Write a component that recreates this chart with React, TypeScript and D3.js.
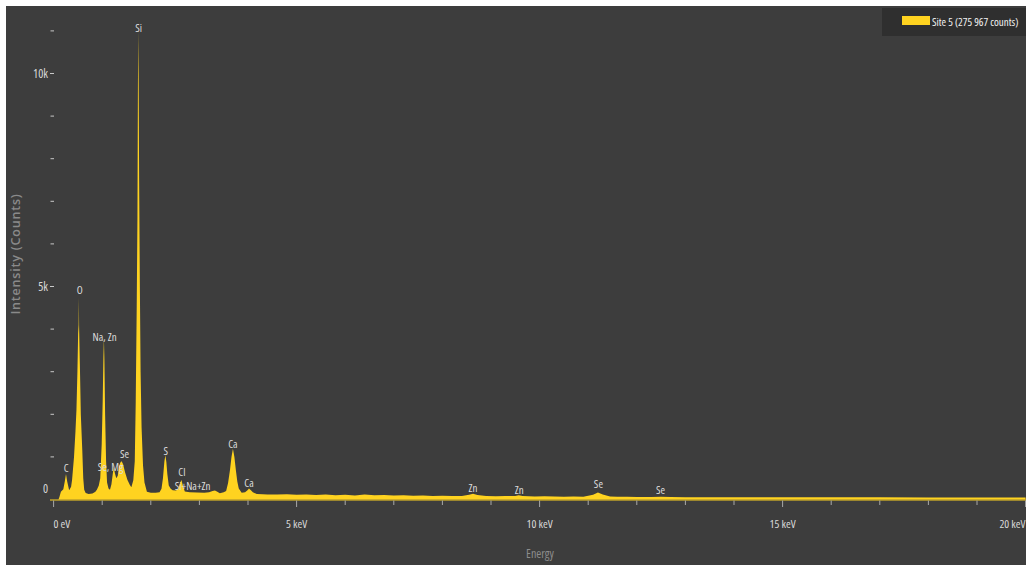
import React from "react";
import * as d3 from "d3";

// EDS spectrum sampled points: photon energy (keV) and detector counts
const energyKeV = [
  0.0, 0.1, 0.12, 0.15, 0.2, 0.23, 0.255, 0.28, 0.32, 0.36, 0.38, 0.42, 0.45, 0.47, 0.49, 0.505, 0.515, 0.52,
  0.525, 0.54, 0.56, 0.59, 0.61, 0.63, 0.66, 0.72, 0.8, 0.86, 0.89, 0.93, 0.96, 0.99, 1.01, 1.025, 1.035,
  1.045, 1.06, 1.08, 1.1, 1.13, 1.16, 1.19, 1.22, 1.24, 1.26, 1.29, 1.32, 1.35, 1.38, 1.4, 1.43, 1.47, 1.52,
  1.57, 1.6, 1.64, 1.67, 1.69, 1.71, 1.725, 1.735, 1.742, 1.75, 1.76, 1.775, 1.79, 1.81, 1.84, 1.87, 1.92,
  2.0, 2.1, 2.18, 2.22, 2.25, 2.28, 2.3, 2.32, 2.34, 2.37, 2.41, 2.45, 2.52, 2.57, 2.6, 2.63, 2.66, 2.7, 2.8,
  2.95, 3.1, 3.2, 3.27, 3.32, 3.36, 3.42, 3.5, 3.55, 3.59, 3.63, 3.66, 3.69, 3.72, 3.75, 3.78, 3.81, 3.87,
  3.94, 3.99, 4.02, 4.06, 4.1, 4.18, 4.3, 4.4, 4.6, 4.8, 5.0, 5.2, 5.4, 5.6, 5.8, 6.0, 6.2, 6.4, 6.6, 6.8,
  7.0, 7.2, 7.4, 7.6, 7.8, 8.0, 8.2, 8.4, 8.55, 8.63, 8.72, 8.9, 9.1, 9.3, 9.5, 9.57, 9.65, 9.9, 10.1, 10.3,
  10.5, 10.7, 10.9, 11.1, 11.2, 11.3, 11.45, 11.6, 11.8, 12.0, 12.3, 12.5, 12.7, 13.0, 13.5, 14.0, 14.5,
  15.0, 16.0, 17.0, 18.0, 19.0, 20.0,
];
const counts = [
  0, 0, 60, 180, 240, 420, 600, 420, 220, 300, 460, 1000, 1600, 2100, 3000, 3900, 4100, 4750,
  4050, 3200, 2000, 1160, 500, 230, 150, 130, 140, 180, 230, 330, 500, 1300, 2300, 3340, 3790,
  3300, 2000, 900, 400, 260, 230, 360, 620, 760, 620, 500, 560, 800, 880, 900, 830, 640, 460,
  340, 290, 450, 900, 2300, 4500, 6600, 9650, 11000, 9900, 7500, 5000, 3000, 1700, 800, 400, 180,
  160, 160, 170, 250, 500, 900, 1040, 880, 600, 330, 250, 220, 210, 260, 380, 460, 330, 190, 170,
  165, 160, 170, 200, 210, 190, 145, 170, 200, 390, 700, 1000, 1190, 1000, 690, 420, 260, 160,
  170, 220, 260, 220, 170, 130, 125, 120, 115, 125, 110, 120, 105, 115, 100, 110, 95, 120, 100, 105,
  95, 100, 90, 95, 85, 90, 80, 85, 110, 135, 105, 80, 75, 80, 85, 100, 80, 70, 75, 70,
  65, 70, 65, 110, 165, 120, 70, 65, 62, 60, 58, 64, 56, 55, 54, 53, 52,
  51, 50, 50, 49, 48, 48,
];

// Element line annotations
const peakLabels = ["C", "O", "Na, Zn", "Se, Mg", "Se", "Si", "S", "Cl", "Si+Na+Zn", "Ca", "Ca", "Zn", "Zn", "Se", "Se"];
const peakLabelKeV = [0.26, 0.54, 1.05, 1.17, 1.46, 1.75, 2.31, 2.64, 2.86, 3.69, 4.02, 8.63, 9.58, 11.21, 12.49];
const peakLabelCounts = [740, 4940, 3815, 780, 1090, 11090, 1160, 650, 330, 1325, 410, 290, 225, 365, 245];

// Axis ticks
const xMajorTicks = [0, 5, 10, 15, 20];
const xTickLabels = ["0 eV", "5 keV", "10 keV", "15 keV", "20 keV"];
const yMajorTicks = [0, 5000, 10000];
const yTickLabels = ["0", "5k", "10k"];

const seriesName = "Site 5 (275 967 counts)";

const W = 1026;
const H = 567;
const YELLOW = "#ffd320";
const NARROW = "'Open Sans', 'DejaVu Sans', sans-serif";

export default function App() {
  const x = d3.scaleLinear().domain([0, 20]).range([53.6, 1025.6]);
  const y = d3.scaleLinear().domain([0, 11000]).range([499.5, 30.9]);

  const pts = energyKeV.map((e, i) => [e, counts[i]] as [number, number]);
  const area = d3
    .area<[number, number]>()
    .x((d) => x(d[0]))
    .y0(y(0))
    .y1((d) => y(d[1]))
    .curve(d3.curveLinear);

  const xMinor = d3.range(0, 21, 1);
  const yMinor = d3.range(1000, 12000, 1000).filter((v) => v % 5000 !== 0);

  return (
    <div style={{ position: "absolute", left: 0, top: 0 }}>
      <svg width={W} height={H} style={{ display: "block" }}>
        <rect x={0} y={0} width={W} height={H} fill="#ffffff" />
        <rect x={6} y={6} width={1020} height={559} fill="#3d3d3d" />

        {/* spectrum */}
        <path d={area(pts) ?? ""} fill={YELLOW} stroke="none" />

        {/* x axis */}
        <line x1={50} x2={1026} y1={500} y2={500} stroke={YELLOW} strokeWidth={1} />
        {xMinor.map((v) => (
          <line
            key={`xt${v}`}
            x1={x(v)}
            x2={x(v)}
            y1={500.5}
            y2={xMajorTicks.includes(v) ? 507 : 505}
            stroke="#a8a8a8"
            strokeWidth={1}
          />
        ))}
        {xMajorTicks.map((v, i) => (
          <text
            key={`xl${v}`}
            x={x(v)}
            y={523}
            dominantBaseline="central"
            textAnchor={i === 0 ? "start" : i === xMajorTicks.length - 1 ? "end" : "middle"}
            fill="#d8d8d8"
            fontSize={11.5}
            fontFamily={NARROW}
            style={{ fontStretch: "75%" }}
          >
            {xTickLabels[i]}
          </text>
        ))}
        <text
          x={540}
          y={553}
          dominantBaseline="central"
          textAnchor="middle"
          fill="#8c8c8c"
          fontSize={12}
          fontFamily={NARROW}
          style={{ fontStretch: "75%" }}
        >
          Energy
        </text>

        {/* y axis */}
        {yMinor.map((v) => (
          <line key={`ym${v}`} x1={50.5} x2={54} y1={y(v)} y2={y(v)} stroke="#c8c8c8" strokeWidth={1} />
        ))}
        {yMajorTicks
          .filter((v) => v > 0)
          .map((v) => (
            <line key={`yt${v}`} x1={50} x2={54} y1={y(v)} y2={y(v)} stroke="#c8c8c8" strokeWidth={1} />
          ))}
        {yMajorTicks.map((v, i) => (
          <text
            key={`yl${v}`}
            x={48}
            y={v === 0 ? y(v) - 11 : y(v)}
            dominantBaseline="central"
            textAnchor="end"
            fill="#d8d8d8"
            fontSize={12}
            fontFamily={NARROW}
            style={{ fontStretch: "75%" }}
          >
            {yTickLabels[i]}
          </text>
        ))}
        <text
          transform={`translate(15, 254) rotate(-90)`}
          textAnchor="middle"
          dominantBaseline="central"
          fill="#8a8a8a"
          fontSize={12.5}
          fontWeight={600}
          fontFamily="'Open Sans', sans-serif"
          letterSpacing={0.8}
        >
          Intensity (Counts)
        </text>

        {/* element labels */}
        {peakLabels.map((t, i) => (
          <text
            key={`pl${i}`}
            x={x(peakLabelKeV[i])}
            y={y(peakLabelCounts[i])}
            dominantBaseline="central"
            textAnchor="middle"
            fill="#dcdcdc"
            fontSize={11}
            fontFamily={NARROW}
            style={{ fontStretch: "75%" }}
          >
            {t}
          </text>
        ))}

        {/* legend */}
        <rect x={882} y={8} width={144} height={28} fill="#2f2f2f" />
        <rect x={902} y={16} width={28} height={9} fill={YELLOW} />
        <text
          x={932}
          y={21}
          dominantBaseline="central"
          fill="#f2f2f2"
          fontSize={11}
          fontFamily={NARROW}
          style={{ fontStretch: "75%" }}
        >
          {seriesName}
        </text>
      </svg>
    </div>
  );
}
